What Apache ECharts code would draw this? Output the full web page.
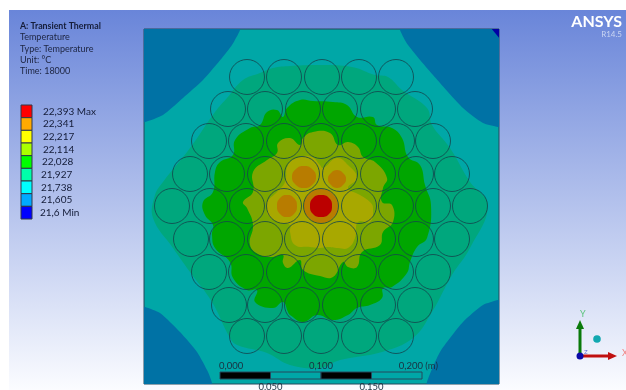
<!DOCTYPE html>
<html><head><meta charset="utf-8">
<style>html,body{margin:0;padding:0;background:#fff}#c{width:626px;height:390px}</style>
<script src="https://cdn.jsdelivr.net/npm/echarts@6/dist/echarts.min.js"></script>
</head><body><div id="c"></div>
<script>
// Legend
const legendValues = ['22,393 Max','22,341','22,217','22,114','22,028','21,927','21,738','21,605','21,6 Min'];
const legendColors = ['#ff0000','#ffaa00','#ffff00','#aaff00','#00ff00','#00ffaa','#00ffff','#00aaff','#0000ff'];
const legendIndent = [0,0,0,0,-1,-2,-2,-2,-3];
const infoLines = ['Temperature','Type: Temperature','Unit: °C','Time: 18000'];

// Scale bar (metres)
const scaleTicks = [0,0.05,0.1,0.15,0.2];
const scaleLabels = ['0,000','0,050','0,100','0,150','0,200 (m)'];

// Rod centres, row by row
const rodRowY = [77,109,141,174,206,239,272,305,336];
const rodRowX = [
 [247,284,322,359,396],
 [228,265,303,340,378,415],
 [209,246,284,321,359,397,433],
 [190,227,265,302,340,378,416,452],
 [172,210,247,284,321,359,396,433,470],
 [191,227,265,302,340,378,416,452],
 [209,246,284,321,359,396,433],
 [229,265,302,340,378,415],
 [247,284,321,359,396]
];

// Contour bands
const cornerTL = [[120,10],[244,10],[240,30],[232,45],[222,58],[203,80],[183,98],[163,115],[145,122],[120,126]];
const cornerTR = [[396,10],[400,30],[408,45],[433,75],[463,108],[483,123],[498,127],[520,130],[520,10]];
const cornerBL = [[120,300],[145,307],[160,313],[180,332],[197,352],[208,372],[212,383],[214,400],[120,400]];
const cornerBR = [[520,296],[498,300],[483,305],[463,322],[440,352],[427,382],[424,400],[520,400]];
const cornerTip = [[491,28],[500,28],[500,39]];
const tealGreenBand = [[155,195],[163,182],[190,148],[215,112],[227,98],[243,80],[260,73],[273,68],[290,66],[320,65],[352,67],[375,75],[388,77],[402,90],[427,108],[432,125],[450,148],[470,182],[488,205],[470,248],[452,275],[432,312],[413,338],[382,352],[340,360],[320,368],[290,365],[267,353],[237,345],[230,338],[212,302],[190,272],[173,248],[153,218]];
const greenBand = [[260,125],[267,112],[277,110],[283,117],[287,108],[300,100],[313,101],[333,102],[347,105],[357,117],[373,117],[377,125],[392,128],[402,138],[408,157],[420,165],[425,185],[431,205],[427,238],[417,247],[410,262],[407,273],[392,287],[383,288],[382,298],[370,305],[357,308],[348,315],[333,320],[317,315],[303,322],[290,315],[288,312],[283,302],[273,308],[255,302],[257,290],[247,290],[233,278],[230,262],[215,248],[212,235],[213,225],[205,215],[203,202],[213,192],[215,172],[220,162],[233,155],[235,140],[250,128]];
const oliveBand = [[243,202],[253,192],[253,172],[267,160],[277,153],[278,143],[290,138],[300,145],[303,138],[313,132],[330,133],[338,145],[348,142],[358,147],[363,157],[375,162],[387,178],[383,188],[382,202],[392,205],[393,222],[383,232],[380,245],[362,252],[357,267],[348,267],[343,262],[333,277],[320,276],[303,270],[300,260],[288,268],[283,263],[283,255],[273,257],[260,255],[250,245],[253,225],[247,208]];
const yellowBand = [[267,202],[277,192],[285,182],[288,165],[300,157],[312,157],[320,165],[323,168],[337,158],[348,165],[357,178],[348,188],[360,195],[370,202],[373,208],[370,222],[358,222],[355,238],[348,248],[338,248],[327,247],[320,248],[310,247],[295,245],[290,232],[290,225],[280,223],[268,215],[267,208]];
const orangeSpotA = [[304,166],[312,169],[316,177],[312,185],[304,188],[296,185],[292,177],[296,169]];
const orangeSpotB = [[287,195],[294,198],[297,206],[294,214],[287,217],[280,214],[277,206],[280,198]];
const orangeSpotC = [[337,170],[343,173],[346,179],[343,185],[337,188],[331,185],[328,179],[331,173]];
const orangeCore = [[321,189],[333,194],[338,206],[333,218],[321,223],[309,218],[304,206],[309,194]];
const redCore = [[321,195],[329,198],[332,206],[329,214],[321,217],[313,214],[310,206],[313,198]];

const bands = [
 {pts:cornerTL,c:'#0072a5',smooth:0.2},{pts:cornerTR,c:'#0072a5',smooth:0.2},{pts:cornerBL,c:'#0072a5',smooth:0.2},{pts:cornerBR,c:'#0072a5',smooth:0.2},
 {pts:cornerTip,c:'#0000a5',smooth:0},
 {pts:tealGreenBand,c:'#00a77d',smooth:0.4},{pts:greenBand,c:'#00a600',smooth:0.45},{pts:oliveBand,c:'#7ca600',smooth:0.45},
 {pts:yellowBand,c:'#a8a800',smooth:0.45},{pts:orangeCore,c:'#b87c00',smooth:0.5},{pts:orangeSpotA,c:'#b87c00',smooth:0.5},
 {pts:orangeSpotB,c:'#b87c00',smooth:0.5},{pts:orangeSpotC,c:'#b87c00',smooth:0.5},{pts:redCore,c:'#bb0000',smooth:0.5}
];
const rods = [];
rodRowX.forEach((row,i)=>row.forEach(x=>rods.push([x,rodRowY[i]])));

const font = 'Lato,"Open Sans",sans-serif';
const textCol = '#1c2440';
const chart = echarts.init(document.getElementById('c'),null,{renderer:'canvas'});
const hiddenAxis = {show:false};
chart.setOption({
 animation:false,
 backgroundColor:'#ffffff',
 grid:[
  {left:144,top:29,width:355,height:355,show:true,backgroundColor:'#00a7a7',borderColor:'#24485c',borderWidth:1},
  {left:220,top:372,width:202,height:7},
  {left:21,top:105,width:11,height:114}
 ],
 xAxis:[
  {gridIndex:0,type:'value',min:144,max:499,...hiddenAxis},
  {gridIndex:1,type:'value',min:0,max:0.2,...hiddenAxis},
  {gridIndex:2,type:'value',min:0,max:1,...hiddenAxis}
 ],
 yAxis:[
  {gridIndex:0,type:'value',min:29,max:384,inverse:true,...hiddenAxis},
  {gridIndex:1,type:'value',min:0,max:1,...hiddenAxis},
  {gridIndex:2,type:'category',inverse:true,data:legendValues,...hiddenAxis}
 ],
 graphic:{elements:[
  {type:'rect',z:-10,silent:true,shape:{x:9,y:10,width:617,height:380},
   style:{fill:new echarts.graphic.LinearGradient(0,0,0,1,[{offset:0,color:'#6985d9'},{offset:1,color:'#fbfcff'}])}},
  {type:'text',left:20,top:22,style:{text:'A: Transient Thermal',font:'bold 8.8px '+font,fill:'#141c38'}},
  ...infoLines.map((t,i)=>({type:'text',left:20,top:33+i*11.3,style:{text:t,font:'9px '+font,fill:textCol}})),
  {type:'text',right:4,top:14,style:{text:'ANSYS',font:'bold 16px '+font,fill:'#ffffff'}},
  {type:'text',right:4,top:30,style:{text:'R14.5',font:'8px '+font,fill:'#c9d5f2'}},
  // triad
  {type:'line',shape:{x1:580,y1:356,x2:580,y2:328},style:{stroke:'#0a7a0a',lineWidth:3}},
  {type:'polygon',shape:{points:[[580,320],[576,329],[584,329]]},style:{fill:'#0a7a0a'}},
  {type:'line',shape:{x1:581,y1:356,x2:610,y2:356},style:{stroke:'#c01010',lineWidth:3}},
  {type:'polygon',shape:{points:[[617,356],[608,352],[608,360]]},style:{fill:'#c01010'}},
  {type:'circle',shape:{cx:580,cy:356,r:3.5},style:{fill:'#0a0aa8'}},
  {type:'circle',shape:{cx:597,cy:339,r:3.8},style:{fill:'#12a8b0'}},
  {type:'text',left:580,top:310,style:{text:'Y',font:'9px '+font,fill:'#5cc47c'}},
  {type:'text',left:622,top:349,style:{text:'X',font:'9px '+font,fill:'#f08080'}},
  {type:'text',left:584,top:349,style:{text:'Z',font:'6px '+font,fill:'#6070d8'}}
 ]},
 series:[
  {type:'custom',coordinateSystem:'cartesian2d',xAxisIndex:0,yAxisIndex:0,clip:true,silent:true,
   data:bands.map((b,i)=>[i]),encode:{x:[],y:[]},
   renderItem(p,api){
     const b=bands[api.value(0)];
     return {type:'polygon',shape:{points:b.pts.map(q=>api.coord(q)),smooth:b.smooth},style:{fill:b.c}};
   }},
  {type:'scatter',xAxisIndex:0,yAxisIndex:0,data:rods,symbol:'circle',symbolSize:35,silent:true,z:5,
   itemStyle:{color:'rgba(0,0,0,0)',borderColor:'#14434c',borderWidth:1}},
  {type:'custom',coordinateSystem:'cartesian2d',xAxisIndex:1,yAxisIndex:1,silent:true,z:6,
   data:scaleTicks.map((t,i)=>[t,i]),
   renderItem(p,api){
     const i=api.value(1),x0=api.coord([api.value(0),1]),kids=[];
     const up=i%2===0;
     const anchor=i===4?'right':'center';
     kids.push({type:'text',style:{x:i===0?x0[0]-1:i===4?x0[0]+16:x0[0],y:up?x0[1]-1:x0[1]+10,text:scaleLabels[i],
       font:'9.5px '+font,fill:'#1a3040',align:i===0?'left':anchor,verticalAlign:up?'bottom':'top'}});
     if(i<4){
       const x1=api.coord([scaleTicks[i+1],0]);
       kids.push({type:'rect',shape:{x:x0[0],y:x0[1],width:x1[0]-x0[0],height:x1[1]-x0[1]},
         style:{fill:i%2===0?'#000000':'#00a7a7',stroke:'#24485c',lineWidth:1}});
     }
     return {type:'group',children:kids};
   }},
  {type:'custom',coordinateSystem:'cartesian2d',xAxisIndex:2,yAxisIndex:2,silent:true,z:6,
   data:legendValues.map((v,i)=>[0,i]),
   renderItem(p,api){
     const i=api.value(1),a=api.coord([0,i]),b=api.coord([1,i]),h=api.size([0,1])[1];
     return {type:'group',children:[
       {type:'rect',shape:{x:a[0],y:a[1]-h/2,width:b[0]-a[0],height:h},style:{fill:legendColors[i],stroke:'#303848',lineWidth:1}},
       {type:'text',style:{x:b[0]+11+legendIndent[i],y:a[1],text:legendValues[i],font:'10px '+font,fill:'#141c38',verticalAlign:'middle',align:'left'}}
     ]};
   }}
 ]
});
</script></body></html>
